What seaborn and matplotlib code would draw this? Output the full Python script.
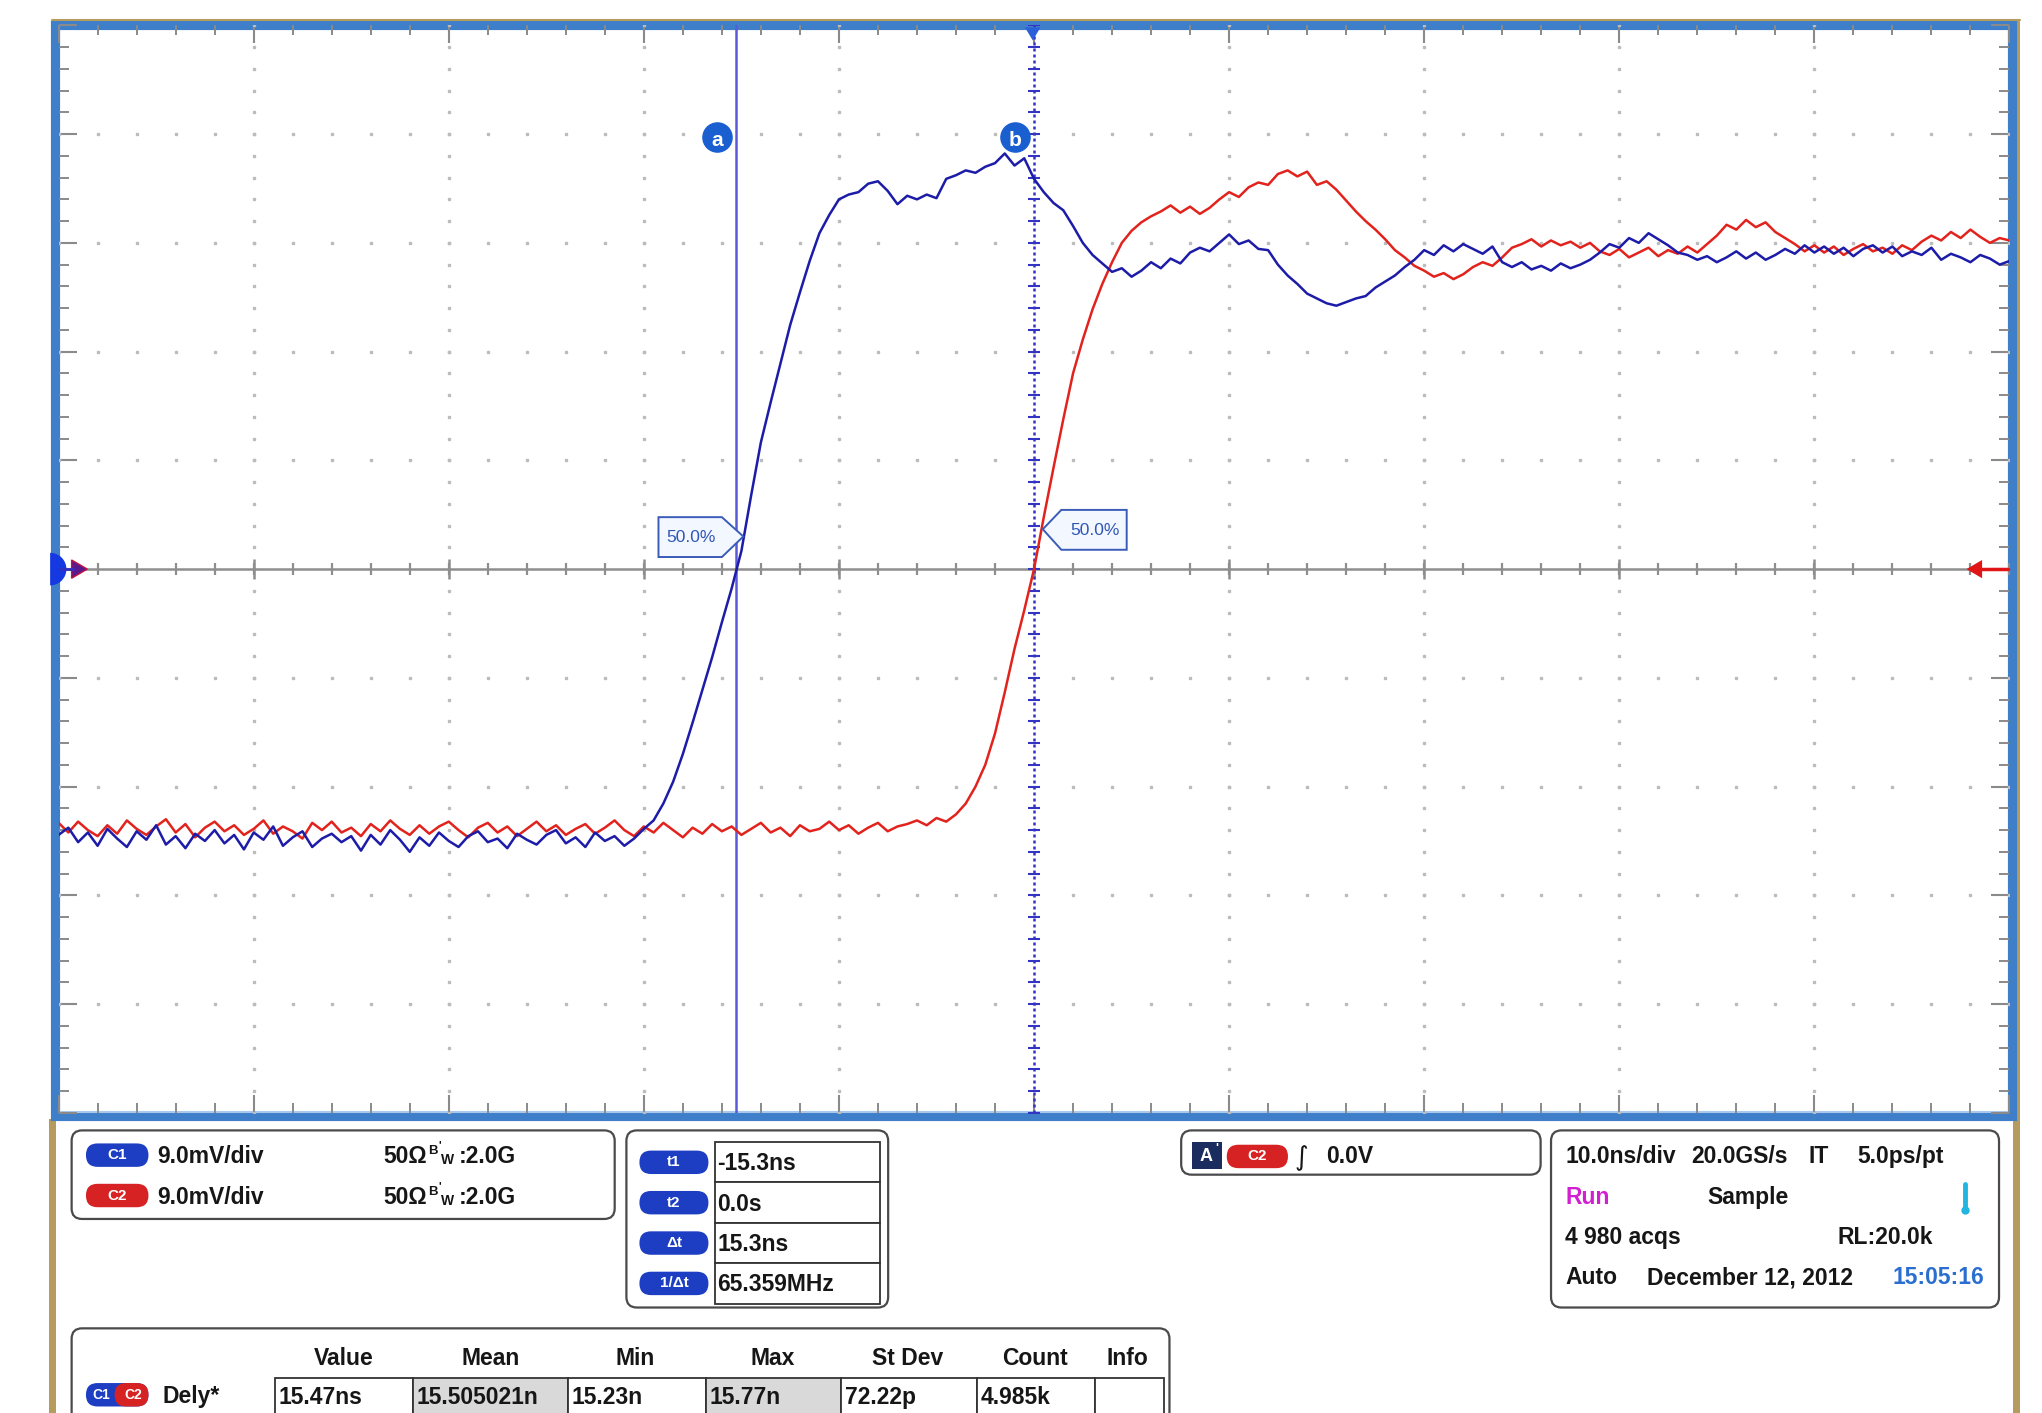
import numpy as np
import matplotlib
matplotlib.use("Agg")
import matplotlib.pyplot as plt
import seaborn as sns
from matplotlib.patches import FancyBboxPatch, Rectangle, Polygon, Wedge

# Captura de osciloscopio: C1 (azul) y C2 (rojo), 10 ns/div y 9 mV/div
tiempo_ns = np.arange(-50.0, 50.5, 0.5)

c1_mv = [
    # -50 .. -20.5 ns, linea base
    -22.0, -21.4, -22.6, -21.8, -22.9, -21.5, -22.3, -23.0, -21.7, -22.4,
    -21.2, -22.8, -22.1, -23.1, -21.9, -22.5, -21.6, -22.7, -22.0, -23.2,
    -21.8, -22.4, -21.3, -22.9, -22.2, -21.7, -23.0, -22.3, -21.9, -22.6,
    -22.1, -23.3, -22.0, -22.8, -21.6, -22.4, -23.4, -22.2, -22.9, -21.8,
    -22.5, -23.0, -22.1, -21.7, -22.6, -22.3, -23.1, -21.9, -22.4, -22.8,
    -22.0, -21.6, -22.7, -22.2, -23.0, -21.8, -22.5, -22.1, -22.9, -22.3,
    # -20 .. -9.5 ns, flanco de subida
    -21.5, -20.8, -19.4, -17.6, -15.3, -12.7, -10.0, -7.3, -4.4, -1.6,
    1.5, 6.1, 10.5, 13.8, 17.0, 20.2, 22.9, 25.5, 27.8, 29.3, 30.6, 31.0,
    # -9 .. 0 ns
    31.2, 31.9, 32.1, 31.3, 30.2, 30.9, 30.6, 31.0, 30.7, 32.3,
    32.6, 33.0, 32.8, 33.3, 33.6, 34.4, 33.4, 34.0, 32.3,
    # 0.5 .. 50 ns
    31.2, 30.3, 29.7, 28.4, 27.0, 26.0, 25.3, 24.6, 24.9, 24.2,
    24.7, 25.4, 24.9, 25.7, 25.3, 26.2, 26.6, 26.3, 27.0, 27.7,
    26.9, 27.2, 26.5, 26.4, 25.2, 24.3, 23.6, 22.8, 22.4, 22.0,
    21.8, 22.1, 22.4, 22.6, 23.3, 23.8, 24.3, 25.0, 25.6, 26.4,
    26.0, 26.8, 26.3, 26.9, 26.5, 26.1, 26.7, 25.4, 25.0, 25.4,
    24.8, 25.1, 24.7, 25.3, 24.9, 25.2, 25.6, 26.2, 26.9, 26.6,
    27.4, 27.0, 27.8, 27.3, 26.8, 26.2, 26.0, 25.6, 25.9, 25.4,
    25.8, 26.3, 25.7, 26.2, 25.6, 26.0, 26.5, 26.1, 26.8, 26.2,
    26.7, 26.1, 26.6, 25.9, 26.5, 26.8, 26.2, 26.7, 25.9, 26.3,
    26.0, 26.6, 25.6, 26.1, 25.8, 25.4, 26.0, 25.7, 25.2, 25.5,
]

c2_mv = [
    # -50 .. -4.5 ns, linea base
    -21.0, -21.8, -20.9, -21.6, -22.1, -21.2, -21.9, -20.8, -21.5, -22.0,
    -21.3, -20.7, -21.8, -21.1, -22.2, -21.4, -20.9, -21.7, -21.2, -22.0,
    -21.5, -20.8, -21.9, -21.3, -21.7, -22.3, -21.0, -21.6, -20.9, -21.8,
    -21.4, -22.1, -21.1, -21.7, -20.8, -21.5, -22.0, -21.2, -21.9, -21.3,
    -20.9, -21.6, -22.2, -21.4, -21.0, -21.8, -21.3, -22.1, -21.5, -20.9,
    -21.7, -21.2, -22.0, -21.5, -21.1, -21.9, -21.4, -20.8, -21.6, -22.1,
    -21.3, -21.8, -21.0, -21.6, -22.2, -21.4, -21.9, -21.1, -21.7, -21.3,
    -22.0, -21.5, -21.0, -21.8, -21.4, -22.1, -21.2, -21.7, -21.5, -20.9,
    -21.6, -21.2, -21.9, -21.4, -21.0, -21.7, -21.3, -21.1, -20.8, -21.2,
    -20.6, -20.9,
    # -4 .. 4.5 ns, flanco de subida
    -20.3, -19.4, -18.0, -16.2, -13.6, -10.2, -6.6, -3.4, 0.0, 4.3,
    8.4, 12.4, 16.2, 19.0, 21.5, 23.6, 25.4, 27.0,
    # 5 .. 50 ns
    28.0, 28.7, 29.2, 29.6, 30.1, 29.5, 30.0, 29.4, 29.9, 30.6,
    31.2, 30.8, 31.6, 32.0, 31.8, 32.7, 33.0, 32.5, 32.9, 31.8,
    32.1, 31.4, 30.5, 29.6, 28.8, 28.1, 27.3, 26.4, 25.8, 25.1,
    24.7, 24.2, 24.5, 24.0, 24.4, 25.0, 25.4, 25.1, 25.8, 26.6,
    26.9, 27.3, 26.7, 27.2, 26.8, 27.1, 26.6, 27.0, 26.3, 26.0,
    26.5, 25.8, 26.2, 26.6, 25.9, 26.4, 26.1, 26.7, 26.2, 26.9,
    27.6, 28.5, 28.1, 28.9, 28.3, 28.7, 27.9, 27.4, 26.9, 26.3,
    26.8, 26.2, 26.7, 26.0, 26.5, 26.9, 26.3, 26.6, 26.1, 26.8,
    26.4, 27.1, 27.6, 27.2, 27.9, 27.4, 28.1, 27.5, 27.0, 27.4,
    27.2,
]

cursores_ns = [-15.3, 0.0]
cursores_txt = ["a", "b"]
nivel_50_mv = [2.7, 3.3]

canales = ["C1", "C2"]
canal_colores = ["#1d3ec2", "#d62222"]
canal_escala = ["9.0mV/div", "9.0mV/div"]
canal_imp = ["50Ω", "50Ω"]
canal_bw = [":2.0G", ":2.0G"]

cursor_etiquetas = ["t1", "t2", "Δt", "1/Δt"]
cursor_valores = ["-15.3ns", "0.0s", "15.3ns", "65.359MHz"]

medida_cols = ["Value", "Mean", "Min", "Max", "St Dev", "Count", "Info"]
medida_vals = ["15.47ns", "15.505021n", "15.23n", "15.77n", "72.22p", "4.985k", ""]

sns.set_style("white")
plt.rcParams["font.family"] = ["Liberation Sans", "DejaVu Sans"]

AZUL_TRAZO = "#1c1ca8"
ROJO_TRAZO = "#e2231d"
GRIS = "#8e8e8e"
FS = 16.5

fig = plt.figure(figsize=(20.42, 14.13), dpi=100)
fig.patch.set_facecolor("white")

# capa de fondo en pixeles de la imagen reducida (1568 x 1085)
bg = fig.add_axes([0, 0, 1, 1], zorder=0)
bg.set_xlim(0, 1568)
bg.set_ylim(1085, 0)
bg.axis("off")

ax = fig.add_axes([45 / 1568, 1 - 854.5 / 1085, 1498 / 1568, 835 / 1085], zorder=2)
ax.patch.set_visible(False)

fg = fig.add_axes([0, 0, 1, 1], zorder=10)
fg.set_xlim(0, 1568)
fg.set_ylim(1085, 0)
fg.axis("off")

# marco
bg.plot([40, 1551], [15.5, 15.5], color="#b59c5e", lw=1.5)
bg.add_patch(Rectangle((1546, 15), 5, 1070, fc="#b59c5e", ec="none"))
bg.add_patch(Rectangle((38, 859), 5, 226, fc="#b59c5e", ec="none"))
bg.add_patch(Rectangle((42.5, 19.5), 1502.5, 837.5, fill=False, ec="#3f7fca", lw=6.6))
bg.plot([47, 1541], [853.5, 853.5], color="#a8c8ec", lw=1.5)

# reticula
x_min = np.arange(-50, 50.1, 2)
y_min = np.arange(-45, 45.1, 1.8)
for xv in [-40, -30, -20, -10, 10, 20, 30, 40]:
    ax.plot(np.full_like(y_min, xv), y_min, ls="none", marker="s", ms=2.0,
            color="#bcbcbc", zorder=1)
for yv in [-36, -27, -18, -9, 9, 18, 27, 36]:
    ax.plot(x_min, np.full_like(x_min, yv), ls="none", marker="s", ms=2.0,
            color="#bcbcbc", zorder=1)

ax.axhline(0, color=GRIS, lw=1.8, zorder=2)
ax.plot(x_min, np.zeros_like(x_min), ls="none", marker="|", ms=9, mew=1.6,
        color=GRIS, zorder=2)
x_may = np.arange(-40, 41, 10)
ax.plot(x_may, np.zeros_like(x_may), ls="none", marker="|", ms=15, mew=1.8,
        color=GRIS, zorder=2)

ax.set_xticks(np.arange(-50, 51, 10))
ax.set_xticks(x_min, minor=True)
ax.set_yticks(np.arange(-45, 46, 9))
ax.set_yticks(y_min, minor=True)
ax.tick_params(which="both", direction="in", top=True, right=True, bottom=True,
               left=True, labelbottom=False, labelleft=False, color="#8a8a8a")
ax.tick_params(which="major", length=13, width=1.5)
ax.tick_params(which="minor", length=7, width=1.4)

# cursores
ax.axvline(cursores_ns[0], color="#5a5ad8", lw=1.8, zorder=4)
ax.axvline(cursores_ns[1], color="#3434c4", lw=1.8, ls=(0, (1.2, 1.2)), zorder=4)
ax.plot(np.full_like(y_min, cursores_ns[1]), y_min, ls="none", marker="_",
        ms=9, mew=1.5, color="#3434c4", zorder=4)

# trazas
sns.lineplot(x=tiempo_ns, y=c2_mv, ax=ax, color=ROJO_TRAZO, lw=1.8,
             estimator=None, legend=False, zorder=5)
sns.lineplot(x=tiempo_ns, y=c1_mv, ax=ax, color=AZUL_TRAZO, lw=1.8,
             estimator=None, legend=False, zorder=6)

ax.set_xlim(-50, 50)
ax.set_ylim(-45, 45)
ax.set_xlabel("")
ax.set_ylabel("")
for s in ax.spines.values():
    s.set_visible(False)

for ct, lab in zip(cursores_ns, cursores_txt):
    ax.plot(ct - 0.95, 35.8, marker="o", ms=21, color="#1a5fd0", zorder=8)
    ax.text(ct - 0.95, 35.5, lab, color="white", ha="center", va="center",
            fontsize=15, fontweight="bold", zorder=9)

# etiquetas 50 %
t_a, t_b = cursores_ns
lv_a, lv_b = nivel_50_mv
izq = [(t_a - 3.95, lv_a + 1.6), (t_a - 0.7, lv_a + 1.6), (t_a + 0.4, lv_a),
       (t_a - 0.7, lv_a - 1.7), (t_a - 3.95, lv_a - 1.7)]
der = [(t_b + 0.45, lv_b), (t_b + 1.4, lv_b + 1.6), (t_b + 4.75, lv_b + 1.6),
       (t_b + 4.75, lv_b - 1.7), (t_b + 1.4, lv_b - 1.7)]
for pts in (izq, der):
    ax.add_patch(Polygon(pts, closed=True, fc="#f3f7ff", ec="#3a5cb8", lw=1.4,
                         zorder=7))
ax.text(t_a - 2.3, lv_a - 0.1, "50.0%", color="#2f55b5", ha="center",
        va="center", fontsize=12.5, zorder=8)
ax.text(t_b + 3.1, lv_b - 0.1, "50.0%", color="#2f55b5", ha="center",
        va="center", fontsize=12.5, zorder=8)

# marcadores de nivel
fg.add_patch(Wedge((38.5, 437), 12.5, -90, 90, fc="#1538e0", ec="none"))
fg.plot([46, 56], [437, 437], color="#3030c0", lw=2)
fg.add_patch(Polygon([(55, 430), (55, 444), (67, 437)], fc="#5a1a8e", ec="#c0143c", lw=1))
fg.plot([1520, 1542], [437, 437], color="#e01515", lw=2.5)
fg.add_patch(Polygon([(1510, 437), (1522, 430), (1522, 444)], fc="#e01515", ec="none"))
fg.add_patch(Polygon([(787, 21), (799, 21), (793, 31)], fc="#2a60d8", ec="none"))


def caja(x0, y0, x1, y1):
    bg.add_patch(FancyBboxPatch((x0, y0), x1 - x0, y1 - y0,
                                boxstyle="round,pad=0,rounding_size=8",
                                fc="white", ec="#4a4a4a", lw=1.6))


def pastilla(x0, x1, yc, color, lab, h=18, fs=11):
    bg.add_patch(FancyBboxPatch((x0, yc - h / 2), x1 - x0, h,
                                boxstyle=f"round,pad=0,rounding_size={h / 2}",
                                fc=color, ec="none"))
    if lab:
        bg.text((x0 + x1) / 2, yc, lab, color="white", ha="center",
                va="center", fontsize=fs, fontweight="bold")


def texto(x, yc, s, color="#161616", ha="left", fs=FS):
    bg.text(x, yc + 6.2, s, ha=ha, va="baseline", fontsize=fs,
            fontweight="bold", color=color)


# canales
caja(55, 868, 472, 936)
for i, yc in enumerate([887, 918]):
    pastilla(66, 114, yc, canal_colores[i], canales[i])
    texto(121, yc, canal_escala[i])
    texto(294, yc, canal_imp[i])
    bg.text(329, yc - 0.5, "B", fontsize=9.5, fontweight="bold",
            color="#161616", va="baseline")
    bg.text(337, yc - 5, "'", fontsize=8, fontweight="bold",
            color="#161616", va="baseline")
    bg.text(339, yc + 7, "W", fontsize=10, fontweight="bold",
            color="#161616", va="baseline")
    texto(352, yc, canal_bw[i])

# cursores
caja(481, 868, 682, 1004)
filas = [877, 908, 939, 970, 1001]
for i in range(4):
    yc = (filas[i] + filas[i + 1]) / 2
    pastilla(491, 544, yc, "#1d3ec2", cursor_etiquetas[i])
    bg.add_patch(Rectangle((549, filas[i]), 127, filas[i + 1] - filas[i],
                           fc="white", ec="#333333", lw=1.3))
    texto(551, yc, cursor_valores[i])

# disparo
caja(907, 868, 1183, 902)
bg.add_patch(Rectangle((915, 877), 23, 21, fc="#1b2d5e", ec="none"))
bg.text(926, 888, "A", color="white", ha="center", va="center",
        fontsize=13, fontweight="bold")
bg.text(934, 882, "'", color="white", ha="center", va="center",
        fontsize=9, fontweight="bold")
pastilla(942, 989, 888, "#d62222", "C2")
bg.text(999, 889, "∫", fontsize=19, va="center", ha="center",
        family="DejaVu Sans", color="#161616")
texto(1018, 887, "0.0V")

# adquisicion
caja(1191, 868, 1535, 1004)
texto(1202, 887, "10.0ns/div")
texto(1299, 887, "20.0GS/s")
texto(1389, 887, "IT")
texto(1426, 887, "5.0ps/pt")
texto(1202, 918, "Run", color="#d21fd2")
texto(1311, 918, "Sample")
bg.plot([1509, 1509], [909, 927], color="#22b5e0", lw=3.5, solid_capstyle="round")
bg.plot(1509, 929, marker="o", ms=5, color="#22b5e0")
texto(1202, 949, "4 980 acqs")
texto(1411, 949, "RL:20.0k")
texto(1202, 980, "Auto")
texto(1265, 980, "December 12, 2012")
texto(1453, 980, "15:05:16", color="#2a6fd0")

# medidas
caja(55, 1020, 898, 1120)
col_cx = [264, 377, 488, 593, 697, 795, 866]
for cx, lab in zip(col_cx, medida_cols):
    texto(cx, 1042, lab, ha="center")
pastilla(66, 114, 1071, "#1d3ec2", "")
pastilla(88, 114, 1071, "#d62222", "")
bg.text(78, 1071, "C1", color="white", ha="center", va="center",
        fontsize=10, fontweight="bold")
bg.text(102, 1071, "C2", color="white", ha="center", va="center",
        fontsize=10, fontweight="bold")
texto(125, 1071, "Dely*")
celdas_x = [211, 317, 436, 542, 646, 750, 841, 894]
for i, val in enumerate(medida_vals):
    fondo = "#d9d9d9" if i in (1, 3) else "white"
    bg.add_patch(Rectangle((celdas_x[i], 1058), celdas_x[i + 1] - celdas_x[i], 40,
                           fc=fondo, ec="#333333", lw=1.3))
    texto(celdas_x[i] + 3, 1072, val)

fig.savefig("out.png", dpi=100)
